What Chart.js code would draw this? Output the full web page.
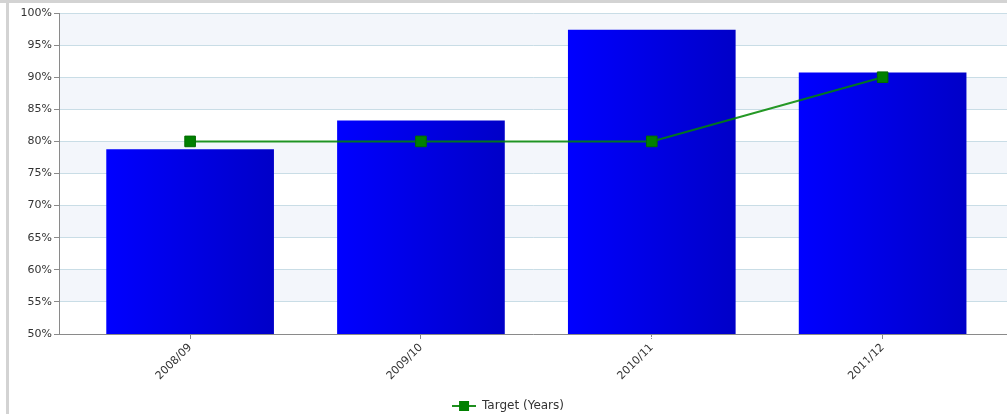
<!DOCTYPE html>
<html>
<head>
<meta charset="utf-8">
<script src="https://cdn.jsdelivr.net/npm/chart.js@4/dist/chart.umd.min.js"></script>
<style>
  html, body {
    margin: 0;
    padding: 0;
    background: #ffffff;
    overflow: hidden;
  }

  #wrap {
    position: relative;
    width: 1007px;
    height: 414px;
    overflow: hidden;
  }

  #chart {
    position: absolute;
    left: 0;
    top: 0;
  }

  .frameTop {
    position: absolute;
    left: 0;
    top: 0;
    width: 1007px;
    height: 3px;
    background: #d3d3d3;
  }

  .frameLeft {
    position: absolute;
    left: 6px;
    top: 0;
    width: 3px;
    height: 414px;
    background: #d3d3d3;
  }
</style>
</head>
<body>
<div id="wrap">
  <canvas id="chart" width="1016" height="414"></canvas>
  <div class="frameTop"></div>
  <div class="frameLeft"></div>
</div>

<script>
const categories = ["2008/09", "2009/10", "2010/11", "2011/12"];
const actualValues = [78.72, 83.19, 97.35, 90.7];
const targetValues = [80, 80, 80, 90];
const yTicks = [50, 55, 60, 65, 70, 75, 80, 85, 90, 95, 100];

const FONT = "'DejaVu Sans', Verdana, sans-serif";
const BAR_WIDTH = 167;


function barGradient(context) {
  const chart = context.chart;

  if (!chart.chartArea || !chart.scales.x) {
    return "#0000ee";
  }

  const x = chart.scales.x.getPixelForValue(context.dataIndex);
  const g = chart.ctx.createLinearGradient(x - BAR_WIDTH / 2, 0, x + BAR_WIDTH / 2, 0);

  g.addColorStop(0, "#0000ff");
  g.addColorStop(1, "#0000c8");

  return g;
}


function legendIcon() {
  const c = document.createElement("canvas");
  c.width = 24;
  c.height = 12;

  const ctx = c.getContext("2d");

  ctx.strokeStyle = "#1f8f1f";
  ctx.lineWidth = 2;
  ctx.beginPath();
  ctx.moveTo(0, 6);
  ctx.lineTo(24, 6);
  ctx.stroke();

  ctx.fillStyle = "#008000";
  ctx.fillRect(7, 1, 10, 10);

  return c;
}


// light bands behind the grid, every other 5% step
const bandsPlugin = {
  id: "bands",
  beforeDraw(chart) {
    const area = chart.chartArea;
    const y = chart.scales.y;
    const ctx = chart.ctx;

    ctx.save();
    ctx.fillStyle = "#f3f6fb";

    for (let v = 55; v < 100; v += 10) {
      const top = y.getPixelForValue(v + 5);
      const bottom = y.getPixelForValue(v);
      ctx.fillRect(area.left, top, area.right - area.left, bottom - top);
    }

    ctx.restore();
  }
};


// value labels in the middle of each bar
const barLabelsPlugin = {
  id: "barLabels",
  afterDatasetsDraw(chart) {
    const meta = chart.getDatasetMeta(0);
    const ctx = chart.ctx;

    ctx.save();
    ctx.fillStyle = "#ffffff";
    ctx.font = "11px " + FONT;
    ctx.textAlign = "center";
    ctx.textBaseline = "middle";

    meta.data.forEach((bar, i) => {
      const mid = (bar.y + bar.base) / 2;
      ctx.fillText(actualValues[i] + "%", bar.x, mid);
    });

    ctx.restore();
  }
};


const ctx = document.getElementById("chart").getContext("2d");

new Chart(ctx, {
  data: {
    datasets: [
      {
        type: "bar",
        label: "Actual",
        data: actualValues.map((v, i) => ({ x: i, y: v })),
        backgroundColor: barGradient,
        borderWidth: 0,
        barThickness: BAR_WIDTH,
        order: 1
      },
      {
        type: "line",
        label: "Target (Years)",
        data: targetValues.map((v, i) => ({ x: i, y: v })),
        borderColor: "rgba(0, 135, 0, 0.85)",
        borderWidth: 2,
        pointStyle: "rect",
        pointRadius: 7.5,
        pointBackgroundColor: "#008000",
        pointBorderColor: "#006a00",
        pointBorderWidth: 1,
        tension: 0,
        order: 0
      }
    ]
  },
  options: {
    responsive: false,
    animation: false,
    layout: {
      padding: {
        top: 13,
        left: 0,
        right: 0,
        bottom: -8
      }
    },
    plugins: {
      tooltip: {
        enabled: false
      },
      legend: {
        position: "bottom",
        labels: {
          color: "#333333",
          font: {
            family: FONT,
            size: 12
          },
          padding: 4,
          usePointStyle: true,
          pointStyleWidth: 24,
          generateLabels: chart => [{
            text: "Target (Years)",
            pointStyle: legendIcon(),
            datasetIndex: 1,
            fontColor: "#333333",
            lineWidth: 0,
            strokeStyle: "transparent",
            fillStyle: "transparent"
          }]
        }
      }
    },
    scales: {
      x: {
        type: "linear",
        offset: false,
        min: -0.568,
        max: 3.541,
        afterBuildTicks: scale => {
          scale.ticks = categories.map((c, i) => ({ value: i }));
        },
        afterFit: scale => {
          scale.height = 62;
        },
        ticks: {
          autoSkip: false,
          minRotation: 45,
          maxRotation: 45,
          color: "#333333",
          padding: 2,
          font: {
            family: FONT,
            size: 11
          },
          callback: value => categories[value] || ""
        },
        grid: {
          offset: false,
          drawOnChartArea: false,
          tickLength: 5,
          color: "#8a8a8a"
        },
        border: {
          color: "#8a8a8a"
        }
      },
      y: {
        min: 50,
        max: 100,
        afterBuildTicks: scale => {
          scale.ticks = yTicks.map(v => ({ value: v }));
        },
        afterFit: scale => {
          scale.width = 59;
        },
        ticks: {
          color: "#333333",
          padding: 2,
          font: {
            family: FONT,
            size: 11
          },
          callback: value => value + "%"
        },
        grid: {
          color: "#c9dde6",
          tickLength: 5,
          tickColor: "#8a8a8a"
        },
        border: {
          color: "#8a8a8a"
        }
      }
    }
  },
  plugins: [bandsPlugin, barLabelsPlugin]
});
</script>
</body>
</html>
